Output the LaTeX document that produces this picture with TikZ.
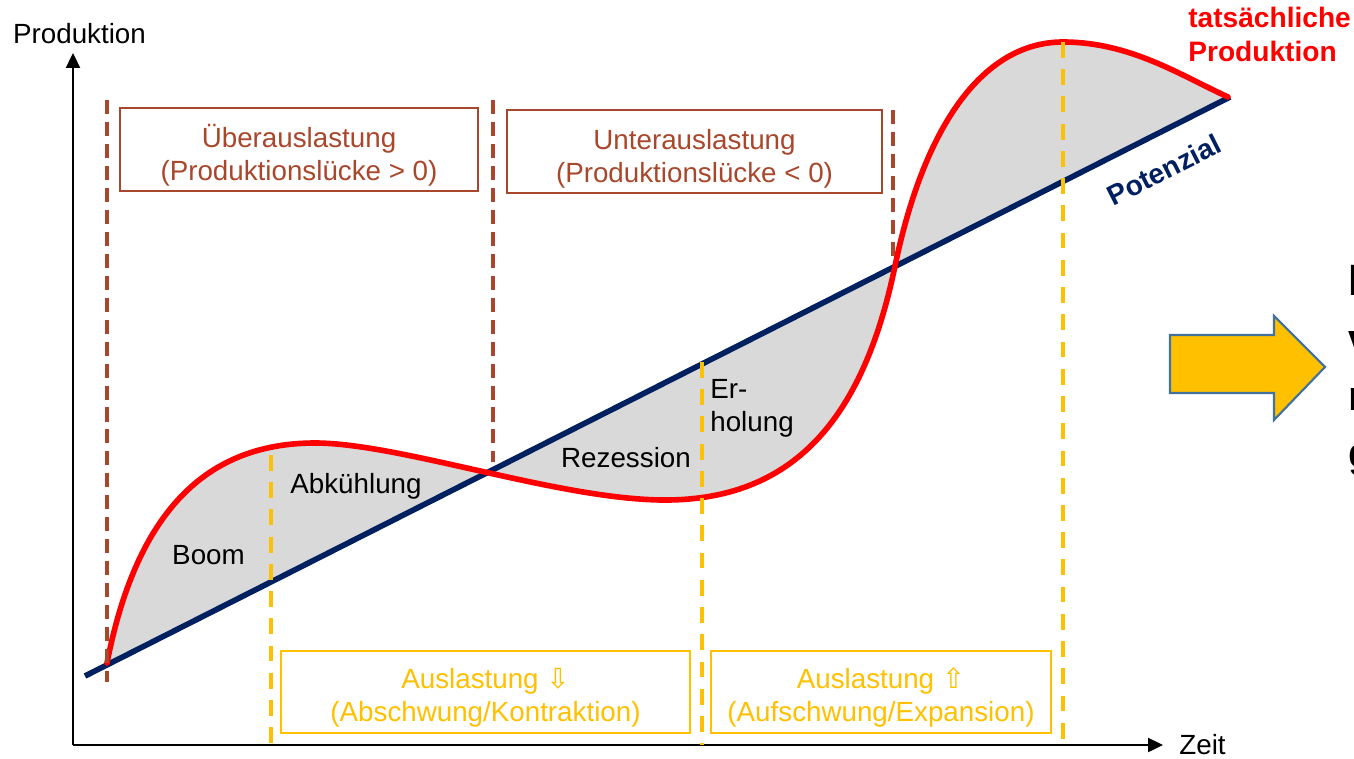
\documentclass[tikz,border=0pt]{standalone}
\usepackage{fontspec}
\setmainfont{Liberation Sans}
\newfontfamily\symfont{DejaVu Sans}
\usepackage{tikz}
\usetikzlibrary{arrows.meta, positioning, calc}
\definecolor{potblue}{HTML}{002060}
\definecolor{prodred}{HTML}{FF0000}
\definecolor{gapbrown}{HTML}{A9472C}
\definecolor{phaseyellow}{HTML}{FFC000}
\definecolor{gapgray}{HTML}{D9D9D9}
\definecolor{arrowblue}{HTML}{41719C}

\begin{document}
\begin{tikzpicture}[x=0.02cm, y=-0.02cm,
  lbl/.style={font=\fontsize{15.8}{18.7}\selectfont, inner sep=0pt},
  gapbox/.style={draw=gapbrown, line width=0.8pt, minimum height=1.66cm, inner sep=0pt},
  gaptext/.style={text=gapbrown, align=center, inner sep=0pt, font=\fontsize{15.8}{18.7}\selectfont},
  phasebox/.style={draw=phaseyellow, line width=0.9pt, minimum height=1.64cm, inner sep=0pt},
  phasetext/.style={text=phaseyellow, align=center, inner sep=0pt, font=\fontsize{15.8}{18.7}\selectfont},
  gapmark/.style={draw=gapbrown, line width=2.2pt, dash pattern=on 8pt off 4.5pt},
  phasemark/.style={draw=phaseyellow, line width=2.2pt, dash pattern=on 9pt off 6.5pt},
  axis/.style={draw=black, line width=1.1pt, -{Triangle[length=8.5pt, width=8pt]}},
]
\useasboundingbox (0,0) rectangle (1354,758);

% gap between actual production and potential
\fill[gapgray] (107,663) .. controls (135,520) and (200,443) .. (315,443)
  .. controls (400,443) and (560,500) .. (665,500)
  .. controls (800,500) and (865,410) .. (895,266)
  .. controls (925,122) and (985,42) .. (1063,42)
  .. controls (1130,42) and (1180,75) .. (1228,97) -- (107,664.9) -- cycle;

% axes
\coordinate (O) at (73,745);
\coordinate (ytop) at (73,53);
\coordinate (xend) at (1163,745);
\draw[axis] (O) -- (ytop);
\draw[axis] (O) -- (xend);
\node[lbl, anchor=base] (ylab) at (79.5,43) {Produktion};
\node[lbl, anchor=base] (xlab) at (1202.5,754) {Zeit};

% potential and actual production
\coordinate (p0) at (85,676);
\coordinate (p1) at (1230,97);
\draw[potblue, line width=3.2pt] (p0) -- (p1);
\draw[prodred, line width=3.2pt, line cap=round] (107,663) .. controls (135,520) and (200,443) .. (315,443)
  .. controls (400,443) and (560,500) .. (665,500)
  .. controls (800,500) and (865,410) .. (895,266)
  .. controls (925,122) and (985,42) .. (1063,42)
  .. controls (1130,42) and (1180,75) .. (1228,97);

% markers
\draw[gapmark] (107,100) -- (107,682);
\draw[gapmark] (493,100) -- (493,462);
\draw[gapmark] (893,110) -- (893,262);
\draw[phasemark] (271,455) -- (271,745);
\draw[phasemark] (702,362) -- (702,745);
\draw[phasemark] (1063,42) -- (1063,745);

% boxes
\node[gapbox, minimum width=7.16cm] (over) at (299,149.5) {};
\node[gaptext] (overtxt) at (299,157) {\strut Überauslastung\\\strut(Produktionslücke > 0)};
\node[gapbox, minimum width=7.5cm] (under) at (694.5,151.5) {};
\node[gaptext] (undertxt) at (694.5,159) {\strut Unterauslastung\\\strut(Produktionslücke < 0)};
\node[phasebox, minimum width=8.18cm] (down) at (485.5,692) {};
\node[phasetext] (downtxt) at (485.5,698) {\strut Auslastung {\symfont ⇩}\\\strut(Abschwung/Kontraktion)};
\node[phasebox, minimum width=6.8cm] (up) at (881,692) {};
\node[phasetext] (uptxt) at (881,698) {\strut Auslastung {\symfont ⇧}\\\strut(Aufschwung/Expansion)};

% phases
\node[lbl, anchor=base] (boom) at (208.5,564) {Boom};
\node[lbl, anchor=base] (cool) at (356,493) {Abkühlung};
\node[lbl, anchor=base] (rez) at (626,467) {Rezession};
\node[lbl, align=left, anchor=west] (erh) at (710,408.5) {Er-\\holung};

% curve labels
\node[font=\bfseries\fontsize{16}{19.3}\selectfont, text=prodred, align=left, anchor=west, inner sep=0pt]
  (actual) at (1188,34) {tatsächliche\\Produktion};
\node[font=\bfseries\fontsize{16}{19}\selectfont, text=potblue, rotate=26.8, inner sep=0pt]
  (pot) at (1164,170) {Potenzial};

% arrow to the right
\draw[arrowblue, fill=phaseyellow, line width=1.2pt, line join=miter]
  (1170,335) -- (1274,335) -- (1274,316) -- (1325,367) -- (1274,420) -- (1274,393) -- (1170,393) -- cycle;
\foreach \ch/\yb [count=\i] in {l/295, v/353, n/410, g/467}
  \node[font=\bfseries\fontsize{23.7}{28}\selectfont, anchor=base west, inner sep=0pt] (cut\i) at (1348,\yb) {\ch};
\end{tikzpicture}
\end{document}
